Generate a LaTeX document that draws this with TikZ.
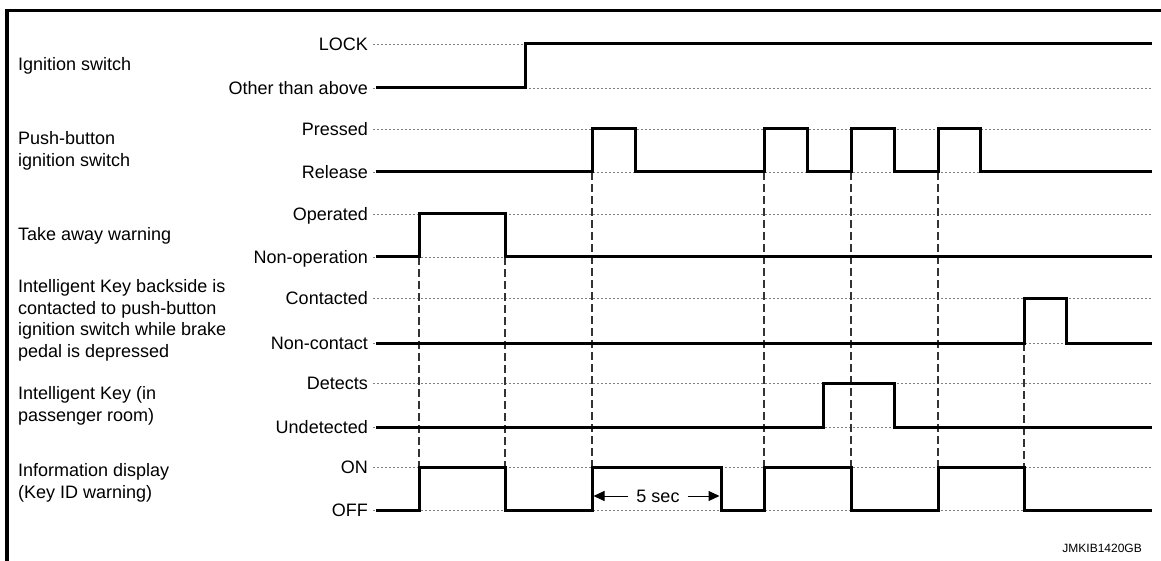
\documentclass[tikz,border=0pt]{standalone}
\usepackage{fontspec}
\setmainfont{Liberation Sans}
\usetikzlibrary{arrows.meta}
\begin{document}
\begin{tikzpicture}[x=1pt,y=-1pt,
  sig/.style={line width=3pt,line join=miter,line cap=butt},
  lvl/.style={line width=0.9pt,gray,dash pattern=on 2pt off 2pt},
  vguide/.style={line width=1.1pt,black!80,dash pattern=on 8pt off 4pt},
  lbl/.style={font=\fontsize{18}{21.5}\selectfont,inner sep=0pt},
  rowlbl/.style={lbl,anchor=west,align=left},
  lvllbl/.style={lbl,anchor=base east},
  arr/.style={line width=1pt,-{Triangle[length=11pt,width=10pt]}}]
\useasboundingbox (0,0) rectangle (1161,561);
% frame
\draw[line width=3.5pt] (7,561) -- (7,10.5) -- (1161,10.5);
% level dotted lines
\foreach \y in {44,88,129,172,214,257,298,343,383,427,467,510}
  \draw[lvl] (373,\y) -- (1152,\y);
% vertical guides
\foreach \x in {419,505} \draw[vguide] (\x,257) -- (\x,467);
\foreach \x in {592,764,851,938} \draw[vguide] (\x,172) -- (\x,467);
\draw[vguide] (1024,343) -- (1024,467);
% row labels
\node[rowlbl] (r1) at (18,66) {Ignition switch};
\node[rowlbl] (r2) at (18,151) {Push-button\\ignition switch};
\node[rowlbl] (r3) at (18,236) {Take away warning};
\node[rowlbl] (r4) at (18,320.5) {Intelligent Key backside is\\contacted to push-button\\ignition switch while brake\\pedal is depressed};
\node[rowlbl] (r5) at (18,406) {Intelligent Key (in\\passenger room)};
\node[rowlbl] (r6) at (18,483) {Information display\\(Key ID warning)};
% level labels
\node[lvllbl] (l1) at (368,50.5) {LOCK};
\node[lvllbl] (l2) at (368,94.5) {Other than above};
\node[lvllbl] (l3) at (368,135.5) {Pressed};
\node[lvllbl] (l4) at (368,178.5) {Release};
\node[lvllbl] (l5) at (368,220.5) {Operated};
\node[lvllbl] (l6) at (368,263.5) {Non-operation};
\node[lvllbl] (l7) at (368,304.5) {Contacted};
\node[lvllbl] (l8) at (368,349.5) {Non-contact};
\node[lvllbl] (l9) at (368,389.5) {Detects};
\node[lvllbl] (l10) at (368,433.5) {Undetected};
\node[lvllbl] (l11) at (368,473.5) {ON};
\node[lvllbl] (l12) at (368,516.5) {OFF};
% signals
\draw[sig] (376,88) -- (525,88) -- (525,44) -- (1152,44);
\draw[sig] (376,172) -- (592,172) -- (592,129) -- (635,129) -- (635,172)
  -- (764,172) -- (764,129) -- (807,129) -- (807,172)
  -- (851,172) -- (851,129) -- (894,129) -- (894,172)
  -- (938,172) -- (938,129) -- (980,129) -- (980,172) -- (1152,172);
\draw[sig] (376,257) -- (419,257) -- (419,214) -- (505,214) -- (505,257) -- (1152,257);
\draw[sig] (376,343) -- (1024,343) -- (1024,298) -- (1066,298) -- (1066,343) -- (1152,343);
\draw[sig] (376,427) -- (823,427) -- (823,383) -- (894,383) -- (894,427) -- (1152,427);
\draw[sig] (376,510) -- (419,510) -- (419,467) -- (505,467) -- (505,510)
  -- (592,510) -- (592,467) -- (721,467) -- (721,510)
  -- (764,510) -- (764,467) -- (851,467) -- (851,510)
  -- (938,510) -- (938,467) -- (1024,467) -- (1024,510) -- (1152,510);
% 5 sec dimension
\coordinate (d1) at (593.5,496);
\coordinate (d2) at (719.5,496);
\node[lbl,inner xsep=8pt] (t5) at (658,496) {5 sec};
\draw[arr] (t5.west) -- (d1);
\draw[arr] (t5.east) -- (d2);
% code
\node[anchor=base east,font=\fontsize{12}{14}\selectfont,inner sep=0pt] (code) at (1142,552) {JMKIB1420GB};
\end{tikzpicture}
\end{document}
